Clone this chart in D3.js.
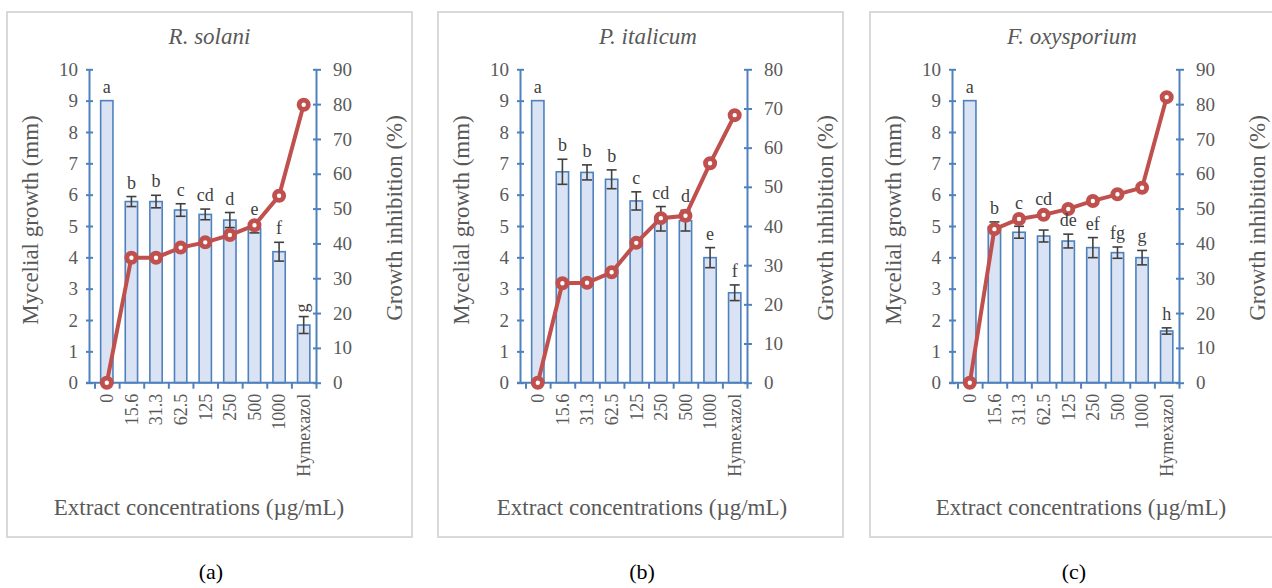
<!DOCTYPE html>
<html>
<head>
<meta charset="utf-8">
<script src="https://cdn.jsdelivr.net/npm/d3@7"></script>
<style>
  body { margin: 0; background: #fff; }
  svg text { font-family: "Liberation Serif", "Times New Roman", serif; }
</style>
</head>
<body>
<script>
// mycelial growth (bars, mm) and growth inhibition (line, %) per extract concentration

const categories = ["0", "15.6", "31.3", "62.5", "125", "250", "500", "1000", "Hymexazol"];
const growthTicks = [0, 1, 2, 3, 4, 5, 6, 7, 8, 9, 10];

const solaniGrowth = [9, 5.78, 5.78, 5.51, 5.37, 5.19, 4.93, 4.18, 1.84];
const solaniErr    = [0, 0.16, 0.2, 0.2, 0.17, 0.24, 0.15, 0.3, 0.27];
const solaniInhib  = [0, 35.9, 35.9, 38.8, 40.3, 42.4, 45.2, 53.7, 79.8];
const solaniLetters = ["a", "b", "b", "c", "cd", "d", "e", "f", "g"];
const solaniInhibTicks = [0, 10, 20, 30, 40, 50, 60, 70, 80, 90];

const italicumGrowth = [9, 6.73, 6.71, 6.49, 5.8, 5.23, 5.17, 3.99, 2.87];
const italicumErr    = [0, 0.4, 0.24, 0.3, 0.29, 0.39, 0.33, 0.32, 0.25];
const italicumInhib  = [0, 25.4, 25.5, 28.2, 35.7, 42.0, 42.6, 56.0, 68.3];
const italicumLetters = ["a", "b", "b", "b", "c", "cd", "d", "e", "f"];
const italicumInhibTicks = [0, 10, 20, 30, 40, 50, 60, 70, 80];

const oxysporiumGrowth = [9, 4.98, 4.8, 4.68, 4.52, 4.31, 4.15, 3.99, 1.65];
const oxysporiumErr    = [0, 0.15, 0.19, 0.19, 0.22, 0.32, 0.18, 0.23, 0.1];
const oxysporiumInhib  = [0, 44.1, 47.0, 48.2, 49.9, 52.2, 54.1, 56.0, 82.0];
const oxysporiumLetters = ["a", "b", "c", "cd", "de", "ef", "fg", "g", "h"];
const oxysporiumInhibTicks = [0, 10, 20, 30, 40, 50, 60, 70, 80, 90];

const panels = [
  {title: "R. solani", sub: "(a)", growth: solaniGrowth, err: solaniErr, inhib: solaniInhib,
   letters: solaniLetters, inhibTicks: solaniInhibTicks, dx: 0, titleX: 209.5, xTitleX: 199, rotateLast: true},
  {title: "P. italicum", sub: "(b)", growth: italicumGrowth, err: italicumErr, inhib: italicumInhib,
   letters: italicumLetters, inhibTicks: italicumInhibTicks, dx: 431, titleX: 217, xTitleX: 211, rotateLast: false},
  {title: "F. oxysporium", sub: "(c)", growth: oxysporiumGrowth, err: oxysporiumErr, inhib: oxysporiumInhib,
   letters: oxysporiumLetters, inhibTicks: oxysporiumInhibTicks, dx: 863, titleX: 209, xTitleX: 218, rotateLast: false}
];

const W = 1272, H = 588;
const serif = "Liberation Serif";
const axisBlue = "#4f81bd", barFill = "#dae3f3", lineRed = "#c0504d";
const textGray = "#595959", labelGray = "#404040";

const axisL = 89, catL = 94.5, catR = 316, yBottom = 382.7, yTop = 69.3;

const svg = d3.select("body").append("svg")
    .attr("width", W)
    .attr("height", H)
    .attr("font-family", serif);

panels.forEach(p => {
    const g = svg.append("g").attr("transform", `translate(${p.dx},0)`);

    // frame
    g.append("rect")
        .attr("x", 7).attr("y", 12)
        .attr("width", 405).attr("height", 525)
        .attr("fill", "none")
        .attr("stroke", "#d9d9d9")
        .attr("stroke-width", 2);

    //scales
    const x = d3.scaleBand()
        .domain(categories)
        .range([catL, catR])
        .paddingInner(0.5)
        .paddingOuter(0.25);

    const xEdge = d3.scaleLinear()
        .domain([0, categories.length])
        .range([catL, catR]);

    const yL = d3.scaleLinear().domain([0, 10]).range([yBottom, yTop]);
    const yR = d3.scaleLinear().domain([0, d3.max(p.inhibTicks)]).range([yBottom, yTop]);

    const cx = i => x(categories[i]) + x.bandwidth() / 2;
    const rows = categories.map((c, i) => ({i: i, v: p.growth[i], e: p.err[i]}));

    // bars
    g.selectAll(".bar").data(rows)
      .enter().append("rect")
        .attr("class", "bar")
        .attr("x", d => x(categories[d.i]))
        .attr("y", d => yL(d.v))
        .attr("width", x.bandwidth())
        .attr("height", d => yBottom - yL(d.v))
        .attr("fill", barFill)
        .attr("stroke", axisBlue)
        .attr("stroke-width", 1.6);

    // error bars
    const eb = g.selectAll(".err").data(rows.filter(d => d.e > 0))
      .enter().append("g").attr("class", "err")
        .attr("stroke", labelGray)
        .attr("stroke-width", 1.6);
    eb.append("line")
        .attr("x1", d => cx(d.i)).attr("x2", d => cx(d.i))
        .attr("y1", d => yL(d.v - d.e)).attr("y2", d => yL(d.v + d.e));
    eb.append("line")
        .attr("x1", d => cx(d.i) - 5).attr("x2", d => cx(d.i) + 5)
        .attr("y1", d => yL(d.v + d.e)).attr("y2", d => yL(d.v + d.e));
    eb.append("line")
        .attr("x1", d => cx(d.i) - 5).attr("x2", d => cx(d.i) + 5)
        .attr("y1", d => yL(d.v - d.e)).attr("y2", d => yL(d.v - d.e));

    // left axis
    const leftAxis = d3.axisLeft(yL).tickValues(growthTicks).tickSize(0).tickPadding(11);
    const la = g.append("g").attr("transform", `translate(${axisL},0)`).call(leftAxis);
    la.attr("font-family", serif);
    la.select(".domain").attr("stroke", axisBlue).attr("stroke-width", 2);
    la.selectAll(".tick line").attr("x1", -3).attr("x2", 4).attr("stroke", axisBlue).attr("stroke-width", 2);
    la.selectAll("text").attr("font-size", 19).attr("fill", textGray);

    // right axis
    const rightAxis = d3.axisRight(yR).tickValues(p.inhibTicks).tickSize(0).tickPadding(17);
    const ra = g.append("g").attr("transform", `translate(${catR},0)`).call(rightAxis);
    ra.attr("font-family", serif);
    ra.select(".domain").attr("stroke", axisBlue).attr("stroke-width", 2);
    ra.selectAll(".tick line").attr("x1", -3).attr("x2", 5).attr("stroke", axisBlue).attr("stroke-width", 2);
    ra.selectAll("text").attr("font-size", 19).attr("fill", textGray);

    // category axis: ticks at band edges
    const edgeAxis = d3.axisBottom(xEdge).tickValues(d3.range(categories.length + 1)).tickSize(6).tickFormat("");
    const ea = g.append("g").attr("transform", `translate(0,${yBottom})`).call(edgeAxis);
    ea.select(".domain").remove();
    ea.selectAll(".tick line").attr("stroke", axisBlue).attr("stroke-width", 2);
    g.append("line")
        .attr("x1", axisL - 3).attr("x2", catR)
        .attr("y1", yBottom).attr("y2", yBottom)
        .attr("stroke", axisBlue).attr("stroke-width", 2);

    const catAxis = d3.axisBottom(x).tickSize(0);
    const ca = g.append("g").attr("transform", `translate(0,${yBottom})`).call(catAxis);
    ca.attr("font-family", serif);
    ca.select(".domain").remove();
    ca.selectAll("text")
        .attr("font-size", 18)
        .attr("fill", textGray)
        .attr("y", 0)
        .attr("x", -11)
        .attr("dy", "0.35em")
        .attr("transform", "rotate(-90)")
        .style("text-anchor", "end");

    // inhibition line
    const line = d3.line()
        .x((d, i) => cx(i))
        .y(d => yR(d));
    g.append("path")
        .datum(p.inhib)
        .attr("d", line)
        .attr("fill", "none")
        .attr("stroke", lineRed)
        .attr("stroke-width", 4);

    g.selectAll(".dot").data(p.inhib)
      .enter().append("circle")
        .attr("cx", (d, i) => cx(i))
        .attr("cy", d => yR(d))
        .attr("r", 4.6)
        .attr("fill", "#fff")
        .attr("stroke", lineRed)
        .attr("stroke-width", 4.8);

    // significance letters
    p.letters.forEach((l, i) => {
        let base = yL(p.growth[i] + p.err[i]) - 8;
        const my = yR(p.inhib[i]);
        if (my > base - 14 && my < base + 4) base = my - 10;
        if (p.rotateLast && i === categories.length - 1) {
            g.append("text")
                .attr("transform", `translate(${cx(i) + 4},${yL(p.growth[i] + p.err[i]) - 4}) rotate(-90)`)
                .attr("font-size", 18)
                .attr("fill", labelGray)
                .text(l);
        } else {
            g.append("text")
                .attr("x", cx(i))
                .attr("y", base)
                .attr("text-anchor", "middle")
                .attr("font-size", 18)
                .attr("fill", labelGray)
                .text(l);
        }
    });

    // titles
    g.append("text")
        .attr("x", p.titleX).attr("y", 44)
        .attr("text-anchor", "middle")
        .attr("font-size", 23)
        .attr("font-style", "italic")
        .attr("fill", textGray)
        .text(p.title);

    g.append("text")
        .attr("transform", `translate(38,220) rotate(-90)`)
        .attr("text-anchor", "middle")
        .attr("font-size", 23)
        .attr("fill", textGray)
        .text("Mycelial growth (mm)");

    g.append("text")
        .attr("transform", `translate(402,218) rotate(-90)`)
        .attr("text-anchor", "middle")
        .attr("font-size", 23)
        .attr("fill", textGray)
        .text("Growth inhibition (%)");

    g.append("text")
        .attr("x", p.xTitleX).attr("y", 515)
        .attr("text-anchor", "middle")
        .attr("font-size", 23)
        .attr("fill", textGray)
        .text("Extract concentrations (µg/mL)");

    g.append("text")
        .attr("x", 211).attr("y", 579)
        .attr("text-anchor", "middle")
        .attr("font-size", 22)
        .attr("fill", "#000")
        .text(p.sub);
});
</script>
</body>
</html>
